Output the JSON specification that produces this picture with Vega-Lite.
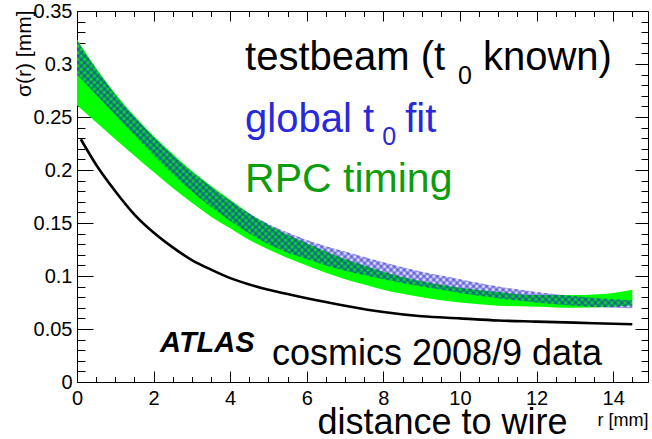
{
  "$schema": "https://vega.github.io/schema/vega-lite/v6.json",
  "autosize": {"type": "none"},
  "padding": {"left": 77, "top": 11, "right": 4, "bottom": 57},
  "width": 571,
  "height": 371,
  "background": "white",
  "config": {
    "view": {"stroke": "black", "strokeWidth": 1},
    "font": "Liberation Sans",
    "text": {"font": "Liberation Sans"},
    "axis": {
      "domain": false,
      "grid": false,
      "tickColor": "black",
      "tickWidth": 1,
      "labelFont": "Liberation Sans",
      "labelFontSize": 20,
      "labelColor": "black",
      "labelOverlap": false,
      "labelFlush": false,
      "labelBound": false,
      "titleFont": "Liberation Sans",
      "titleFontWeight": "normal",
      "titleColor": "black"
    }
  },
  "datasets": {
    "bands": [
      {"r": 0, "rpc_lo": 0.261, "rpc_hi": 0.323, "g_lo": 0.290, "g_hi": 0.322},
      {"r": 0.5, "rpc_lo": 0.245, "rpc_hi": 0.296, "g_lo": 0.271, "g_hi": 0.295},
      {"r": 1, "rpc_lo": 0.229, "rpc_hi": 0.272, "g_lo": 0.252, "g_hi": 0.271},
      {"r": 1.5, "rpc_lo": 0.2135, "rpc_hi": 0.251, "g_lo": 0.233, "g_hi": 0.250},
      {"r": 2, "rpc_lo": 0.198, "rpc_hi": 0.232, "g_lo": 0.214, "g_hi": 0.231},
      {"r": 2.5, "rpc_lo": 0.183, "rpc_hi": 0.215, "g_lo": 0.196, "g_hi": 0.214},
      {"r": 3, "rpc_lo": 0.169, "rpc_hi": 0.199, "g_lo": 0.180, "g_hi": 0.198},
      {"r": 3.5, "rpc_lo": 0.156, "rpc_hi": 0.185, "g_lo": 0.165, "g_hi": 0.184},
      {"r": 4, "rpc_lo": 0.145, "rpc_hi": 0.172, "g_lo": 0.152, "g_hi": 0.171},
      {"r": 4.5, "rpc_lo": 0.134, "rpc_hi": 0.159, "g_lo": 0.140, "g_hi": 0.159},
      {"r": 5, "rpc_lo": 0.125, "rpc_hi": 0.148, "g_lo": 0.130, "g_hi": 0.149},
      {"r": 5.5, "rpc_lo": 0.117, "rpc_hi": 0.139, "g_lo": 0.122, "g_hi": 0.141},
      {"r": 6, "rpc_lo": 0.110, "rpc_hi": 0.131, "g_lo": 0.116, "g_hi": 0.134},
      {"r": 6.5, "rpc_lo": 0.103, "rpc_hi": 0.123, "g_lo": 0.110, "g_hi": 0.128},
      {"r": 7, "rpc_lo": 0.097, "rpc_hi": 0.116, "g_lo": 0.105, "g_hi": 0.123},
      {"r": 7.5, "rpc_lo": 0.092, "rpc_hi": 0.110, "g_lo": 0.101, "g_hi": 0.118},
      {"r": 8, "rpc_lo": 0.087, "rpc_hi": 0.104, "g_lo": 0.097, "g_hi": 0.113},
      {"r": 9, "rpc_lo": 0.080, "rpc_hi": 0.095, "g_lo": 0.090, "g_hi": 0.104},
      {"r": 10, "rpc_lo": 0.075, "rpc_hi": 0.089, "g_lo": 0.084, "g_hi": 0.097},
      {"r": 11, "rpc_lo": 0.072, "rpc_hi": 0.085, "g_lo": 0.079, "g_hi": 0.090},
      {"r": 12, "rpc_lo": 0.071, "rpc_hi": 0.082, "g_lo": 0.075, "g_hi": 0.085},
      {"r": 13, "rpc_lo": 0.070, "rpc_hi": 0.082, "g_lo": 0.072, "g_hi": 0.081},
      {"r": 14, "rpc_lo": 0.071, "rpc_hi": 0.084, "g_lo": 0.070, "g_hi": 0.078},
      {"r": 14.5, "rpc_lo": 0.0725, "rpc_hi": 0.087, "g_lo": 0.0695, "g_hi": 0.077}
    ],
    "testbeam": [
      {"r": 0.1, "sigma": 0.229},
      {"r": 0.5, "sigma": 0.205},
      {"r": 1, "sigma": 0.180},
      {"r": 1.5, "sigma": 0.158},
      {"r": 2, "sigma": 0.141},
      {"r": 2.5, "sigma": 0.127},
      {"r": 3, "sigma": 0.115},
      {"r": 3.5, "sigma": 0.106},
      {"r": 4, "sigma": 0.098},
      {"r": 4.5, "sigma": 0.092},
      {"r": 5, "sigma": 0.087},
      {"r": 5.5, "sigma": 0.083},
      {"r": 6, "sigma": 0.079},
      {"r": 7, "sigma": 0.072},
      {"r": 8, "sigma": 0.066},
      {"r": 9, "sigma": 0.062},
      {"r": 10, "sigma": 0.060},
      {"r": 11, "sigma": 0.058},
      {"r": 12, "sigma": 0.057},
      {"r": 13, "sigma": 0.056},
      {"r": 14, "sigma": 0.055},
      {"r": 14.5, "sigma": 0.0545}
    ]
  },
  "resolve": {
    "scale": {"x": "shared", "y": "shared"},
    "axis": {"x": "independent", "y": "independent"}
  },
  "layer": [
    {
      "data": {"name": "bands"},
      "mark": {"type": "area", "interpolate": "monotone", "color": "#00ff00", "opacity": 1},
      "encoding": {
        "x": {
          "field": "r", "type": "quantitative",
          "scale": {"domain": [0, 14.91], "nice": false, "zero": false},
          "axis": {
            "orient": "bottom",
            "values": [0, 0.5, 1, 1.5, 2, 2.5, 3, 3.5, 4, 4.5, 5, 5.5, 6, 6.5, 7, 7.5, 8, 8.5, 9, 9.5, 10, 10.5, 11, 11.5, 12, 12.5, 13, 13.5, 14, 14.5],
            "labelExpr": "datum.value % 2 === 0 ? format(datum.value, 'd') : ''",
            "tickSize": {"condition": {"test": "datum.value % 2 === 0", "value": -11}, "value": -5.5},
            "labelPadding": 17,
            "title": "r [mm]",
            "titleFontSize": 18,
            "titleAnchor": "end",
            "titleAlign": "right",
            "titleBaseline": "alphabetic",
            "titleX": 571,
            "titleY": 43
          }
        },
        "y": {
          "field": "rpc_lo", "type": "quantitative",
          "scale": {"domain": [0, 0.35], "nice": false, "zero": false},
          "axis": {
            "orient": "left",
            "values": [0, 0.01, 0.02, 0.03, 0.04, 0.05, 0.06, 0.07, 0.08, 0.09, 0.1, 0.11, 0.12, 0.13, 0.14, 0.15, 0.16, 0.17, 0.18, 0.19, 0.2, 0.21, 0.22, 0.23, 0.24, 0.25, 0.26, 0.27, 0.28, 0.29, 0.3, 0.31, 0.32, 0.33, 0.34, 0.35],
            "labelExpr": "round(datum.value * 100) % 5 === 0 ? format(datum.value, '~g') : ''",
            "tickSize": {"condition": {"test": "round(datum.value * 100) % 5 === 0", "value": -16}, "value": -8},
            "labelPadding": 21,
            "title": "σ(r) [mm]",
            "titleFontSize": 21,
            "titleAngle": -90,
            "titleAnchor": "end",
            "titleAlign": "right",
            "titleBaseline": "alphabetic",
            "titleX": -47,
            "titleY": -1
          }
        },
        "y2": {"field": "rpc_hi"}
      }
    },
    {
      "data": {"name": "bands"},
      "mark": {
        "type": "area", "interpolate": "monotone",
        "fill": {
          "gradient": "linear", "x1": 0, "y1": 0, "x2": 1.203, "y2": 0.581,
          "stops": [
            {"offset": 0, "color": "#22c0"}, {"offset": 0.004, "color": "#22c8"}, {"offset": 0.008, "color": "#22c0"}, {"offset": 0.012, "color": "#22c8"}, {"offset": 0.016, "color": "#22c0"}, {"offset": 0.02, "color": "#22c8"}, {"offset": 0.024, "color": "#22c0"}, {"offset": 0.028, "color": "#22c8"}, {"offset": 0.032, "color": "#22c0"}, {"offset": 0.036, "color": "#22c8"}, {"offset": 0.04, "color": "#22c0"}, {"offset": 0.044, "color": "#22c8"}, {"offset": 0.048, "color": "#22c0"}, {"offset": 0.052, "color": "#22c8"}, {"offset": 0.056, "color": "#22c0"}, {"offset": 0.06, "color": "#22c8"}, {"offset": 0.064, "color": "#22c0"}, {"offset": 0.068, "color": "#22c8"}, {"offset": 0.072, "color": "#22c0"}, {"offset": 0.076, "color": "#22c8"}, {"offset": 0.08, "color": "#22c0"}, {"offset": 0.084, "color": "#22c8"}, {"offset": 0.088, "color": "#22c0"}, {"offset": 0.092, "color": "#22c8"}, {"offset": 0.096, "color": "#22c0"},
            {"offset": 0.1, "color": "#22c8"}, {"offset": 0.104, "color": "#22c0"}, {"offset": 0.108, "color": "#22c8"}, {"offset": 0.112, "color": "#22c0"}, {"offset": 0.116, "color": "#22c8"}, {"offset": 0.12, "color": "#22c0"}, {"offset": 0.124, "color": "#22c8"}, {"offset": 0.128, "color": "#22c0"}, {"offset": 0.132, "color": "#22c8"}, {"offset": 0.136, "color": "#22c0"}, {"offset": 0.14, "color": "#22c8"}, {"offset": 0.144, "color": "#22c0"}, {"offset": 0.148, "color": "#22c8"}, {"offset": 0.152, "color": "#22c0"}, {"offset": 0.156, "color": "#22c8"}, {"offset": 0.16, "color": "#22c0"}, {"offset": 0.164, "color": "#22c8"}, {"offset": 0.168, "color": "#22c0"}, {"offset": 0.172, "color": "#22c8"}, {"offset": 0.176, "color": "#22c0"}, {"offset": 0.18, "color": "#22c8"}, {"offset": 0.184, "color": "#22c0"}, {"offset": 0.188, "color": "#22c8"}, {"offset": 0.192, "color": "#22c0"}, {"offset": 0.196, "color": "#22c8"},
            {"offset": 0.2, "color": "#22c0"}, {"offset": 0.204, "color": "#22c8"}, {"offset": 0.208, "color": "#22c0"}, {"offset": 0.212, "color": "#22c8"}, {"offset": 0.216, "color": "#22c0"}, {"offset": 0.22, "color": "#22c8"}, {"offset": 0.224, "color": "#22c0"}, {"offset": 0.228, "color": "#22c8"}, {"offset": 0.232, "color": "#22c0"}, {"offset": 0.236, "color": "#22c8"}, {"offset": 0.24, "color": "#22c0"}, {"offset": 0.244, "color": "#22c8"}, {"offset": 0.248, "color": "#22c0"}, {"offset": 0.252, "color": "#22c8"}, {"offset": 0.256, "color": "#22c0"}, {"offset": 0.26, "color": "#22c8"}, {"offset": 0.264, "color": "#22c0"}, {"offset": 0.268, "color": "#22c8"}, {"offset": 0.272, "color": "#22c0"}, {"offset": 0.276, "color": "#22c8"}, {"offset": 0.28, "color": "#22c0"}, {"offset": 0.284, "color": "#22c8"}, {"offset": 0.288, "color": "#22c0"}, {"offset": 0.292, "color": "#22c8"}, {"offset": 0.296, "color": "#22c0"},
            {"offset": 0.3, "color": "#22c8"}, {"offset": 0.304, "color": "#22c0"}, {"offset": 0.308, "color": "#22c8"}, {"offset": 0.312, "color": "#22c0"}, {"offset": 0.316, "color": "#22c8"}, {"offset": 0.32, "color": "#22c0"}, {"offset": 0.324, "color": "#22c8"}, {"offset": 0.328, "color": "#22c0"}, {"offset": 0.332, "color": "#22c8"}, {"offset": 0.336, "color": "#22c0"}, {"offset": 0.34, "color": "#22c8"}, {"offset": 0.344, "color": "#22c0"}, {"offset": 0.348, "color": "#22c8"}, {"offset": 0.352, "color": "#22c0"}, {"offset": 0.356, "color": "#22c8"}, {"offset": 0.36, "color": "#22c0"}, {"offset": 0.364, "color": "#22c8"}, {"offset": 0.368, "color": "#22c0"}, {"offset": 0.372, "color": "#22c8"}, {"offset": 0.376, "color": "#22c0"}, {"offset": 0.38, "color": "#22c8"}, {"offset": 0.384, "color": "#22c0"}, {"offset": 0.388, "color": "#22c8"}, {"offset": 0.392, "color": "#22c0"}, {"offset": 0.396, "color": "#22c8"},
            {"offset": 0.4, "color": "#22c0"}, {"offset": 0.404, "color": "#22c8"}, {"offset": 0.408, "color": "#22c0"}, {"offset": 0.412, "color": "#22c8"}, {"offset": 0.416, "color": "#22c0"}, {"offset": 0.42, "color": "#22c8"}, {"offset": 0.424, "color": "#22c0"}, {"offset": 0.428, "color": "#22c8"}, {"offset": 0.432, "color": "#22c0"}, {"offset": 0.436, "color": "#22c8"}, {"offset": 0.44, "color": "#22c0"}, {"offset": 0.444, "color": "#22c8"}, {"offset": 0.448, "color": "#22c0"}, {"offset": 0.452, "color": "#22c8"}, {"offset": 0.456, "color": "#22c0"}, {"offset": 0.46, "color": "#22c8"}, {"offset": 0.464, "color": "#22c0"}, {"offset": 0.468, "color": "#22c8"}, {"offset": 0.472, "color": "#22c0"}, {"offset": 0.476, "color": "#22c8"}, {"offset": 0.48, "color": "#22c0"}, {"offset": 0.484, "color": "#22c8"}, {"offset": 0.488, "color": "#22c0"}, {"offset": 0.492, "color": "#22c8"}, {"offset": 0.496, "color": "#22c0"},
            {"offset": 0.5, "color": "#22c8"}, {"offset": 0.504, "color": "#22c0"}, {"offset": 0.508, "color": "#22c8"}, {"offset": 0.512, "color": "#22c0"}, {"offset": 0.516, "color": "#22c8"}, {"offset": 0.52, "color": "#22c0"}, {"offset": 0.524, "color": "#22c8"}, {"offset": 0.528, "color": "#22c0"}, {"offset": 0.532, "color": "#22c8"}, {"offset": 0.536, "color": "#22c0"}, {"offset": 0.54, "color": "#22c8"}, {"offset": 0.544, "color": "#22c0"}, {"offset": 0.548, "color": "#22c8"}, {"offset": 0.552, "color": "#22c0"}, {"offset": 0.556, "color": "#22c8"}, {"offset": 0.56, "color": "#22c0"}, {"offset": 0.564, "color": "#22c8"}, {"offset": 0.568, "color": "#22c0"}, {"offset": 0.572, "color": "#22c8"}, {"offset": 0.576, "color": "#22c0"}, {"offset": 0.58, "color": "#22c8"}, {"offset": 0.584, "color": "#22c0"}, {"offset": 0.588, "color": "#22c8"}, {"offset": 0.592, "color": "#22c0"}, {"offset": 0.596, "color": "#22c8"},
            {"offset": 0.6, "color": "#22c0"}, {"offset": 0.604, "color": "#22c8"}, {"offset": 0.608, "color": "#22c0"}, {"offset": 0.612, "color": "#22c8"}, {"offset": 0.616, "color": "#22c0"}, {"offset": 0.62, "color": "#22c8"}, {"offset": 0.624, "color": "#22c0"}, {"offset": 0.628, "color": "#22c8"}, {"offset": 0.632, "color": "#22c0"}, {"offset": 0.636, "color": "#22c8"}, {"offset": 0.64, "color": "#22c0"}, {"offset": 0.644, "color": "#22c8"}, {"offset": 0.648, "color": "#22c0"}, {"offset": 0.652, "color": "#22c8"}, {"offset": 0.656, "color": "#22c0"}, {"offset": 0.66, "color": "#22c8"}, {"offset": 0.664, "color": "#22c0"}, {"offset": 0.668, "color": "#22c8"}, {"offset": 0.672, "color": "#22c0"}, {"offset": 0.676, "color": "#22c8"}, {"offset": 0.68, "color": "#22c0"}, {"offset": 0.684, "color": "#22c8"}, {"offset": 0.688, "color": "#22c0"}, {"offset": 0.692, "color": "#22c8"}, {"offset": 0.696, "color": "#22c0"},
            {"offset": 0.7, "color": "#22c8"}, {"offset": 0.704, "color": "#22c0"}, {"offset": 0.708, "color": "#22c8"}, {"offset": 0.712, "color": "#22c0"}, {"offset": 0.716, "color": "#22c8"}, {"offset": 0.72, "color": "#22c0"}, {"offset": 0.724, "color": "#22c8"}, {"offset": 0.728, "color": "#22c0"}, {"offset": 0.732, "color": "#22c8"}, {"offset": 0.736, "color": "#22c0"}, {"offset": 0.74, "color": "#22c8"}, {"offset": 0.744, "color": "#22c0"}, {"offset": 0.748, "color": "#22c8"}, {"offset": 0.752, "color": "#22c0"}, {"offset": 0.756, "color": "#22c8"}, {"offset": 0.76, "color": "#22c0"}, {"offset": 0.764, "color": "#22c8"}, {"offset": 0.768, "color": "#22c0"}, {"offset": 0.772, "color": "#22c8"}, {"offset": 0.776, "color": "#22c0"}, {"offset": 0.78, "color": "#22c8"}, {"offset": 0.784, "color": "#22c0"}, {"offset": 0.788, "color": "#22c8"}, {"offset": 0.792, "color": "#22c0"}, {"offset": 0.796, "color": "#22c8"},
            {"offset": 0.8, "color": "#22c0"}, {"offset": 0.804, "color": "#22c8"}, {"offset": 0.808, "color": "#22c0"}, {"offset": 0.812, "color": "#22c8"}, {"offset": 0.816, "color": "#22c0"}, {"offset": 0.82, "color": "#22c8"}, {"offset": 0.824, "color": "#22c0"}, {"offset": 0.828, "color": "#22c8"}, {"offset": 0.832, "color": "#22c0"}, {"offset": 0.836, "color": "#22c8"}, {"offset": 0.84, "color": "#22c0"}, {"offset": 0.844, "color": "#22c8"}, {"offset": 0.848, "color": "#22c0"}, {"offset": 0.852, "color": "#22c8"}, {"offset": 0.856, "color": "#22c0"}, {"offset": 0.86, "color": "#22c8"}, {"offset": 0.864, "color": "#22c0"}, {"offset": 0.868, "color": "#22c8"}, {"offset": 0.872, "color": "#22c0"}, {"offset": 0.876, "color": "#22c8"}, {"offset": 0.88, "color": "#22c0"}, {"offset": 0.884, "color": "#22c8"}, {"offset": 0.888, "color": "#22c0"}, {"offset": 0.892, "color": "#22c8"}, {"offset": 0.896, "color": "#22c0"},
            {"offset": 0.9, "color": "#22c8"}, {"offset": 0.904, "color": "#22c0"}, {"offset": 0.908, "color": "#22c8"}, {"offset": 0.912, "color": "#22c0"}, {"offset": 0.916, "color": "#22c8"}, {"offset": 0.92, "color": "#22c0"}, {"offset": 0.924, "color": "#22c8"}, {"offset": 0.928, "color": "#22c0"}, {"offset": 0.932, "color": "#22c8"}, {"offset": 0.936, "color": "#22c0"}, {"offset": 0.94, "color": "#22c8"}, {"offset": 0.944, "color": "#22c0"}, {"offset": 0.948, "color": "#22c8"}, {"offset": 0.952, "color": "#22c0"}, {"offset": 0.956, "color": "#22c8"}, {"offset": 0.96, "color": "#22c0"}, {"offset": 0.964, "color": "#22c8"}, {"offset": 0.968, "color": "#22c0"}, {"offset": 0.972, "color": "#22c8"}, {"offset": 0.976, "color": "#22c0"}, {"offset": 0.98, "color": "#22c8"}, {"offset": 0.984, "color": "#22c0"}, {"offset": 0.988, "color": "#22c8"}, {"offset": 0.992, "color": "#22c0"}, {"offset": 0.996, "color": "#22c8"},
            {"offset": 1, "color": "#22c0"}
          ]
        }
      },
      "encoding": {
        "x": {"field": "r", "type": "quantitative", "axis": null},
        "y": {"field": "g_lo", "type": "quantitative", "axis": null},
        "y2": {"field": "g_hi"}
      }
    },
    {
      "data": {"name": "bands"},
      "mark": {
        "type": "area", "interpolate": "monotone",
        "fill": {
          "gradient": "linear", "x1": 0, "y1": 1, "x2": 1.203, "y2": 0.419,
          "stops": [
            {"offset": 0.2, "color": "#22c0"}, {"offset": 0.204, "color": "#22c8"}, {"offset": 0.208, "color": "#22c0"}, {"offset": 0.212, "color": "#22c8"}, {"offset": 0.216, "color": "#22c0"}, {"offset": 0.22, "color": "#22c8"}, {"offset": 0.224, "color": "#22c0"}, {"offset": 0.228, "color": "#22c8"}, {"offset": 0.232, "color": "#22c0"}, {"offset": 0.236, "color": "#22c8"}, {"offset": 0.24, "color": "#22c0"}, {"offset": 0.244, "color": "#22c8"}, {"offset": 0.248, "color": "#22c0"}, {"offset": 0.252, "color": "#22c8"}, {"offset": 0.256, "color": "#22c0"}, {"offset": 0.26, "color": "#22c8"}, {"offset": 0.264, "color": "#22c0"}, {"offset": 0.268, "color": "#22c8"}, {"offset": 0.272, "color": "#22c0"}, {"offset": 0.276, "color": "#22c8"}, {"offset": 0.28, "color": "#22c0"}, {"offset": 0.284, "color": "#22c8"}, {"offset": 0.288, "color": "#22c0"}, {"offset": 0.292, "color": "#22c8"}, {"offset": 0.296, "color": "#22c0"},
            {"offset": 0.3, "color": "#22c8"}, {"offset": 0.304, "color": "#22c0"}, {"offset": 0.308, "color": "#22c8"}, {"offset": 0.312, "color": "#22c0"}, {"offset": 0.316, "color": "#22c8"}, {"offset": 0.32, "color": "#22c0"}, {"offset": 0.324, "color": "#22c8"}, {"offset": 0.328, "color": "#22c0"}, {"offset": 0.332, "color": "#22c8"}, {"offset": 0.336, "color": "#22c0"}, {"offset": 0.34, "color": "#22c8"}, {"offset": 0.344, "color": "#22c0"}, {"offset": 0.348, "color": "#22c8"}, {"offset": 0.352, "color": "#22c0"}, {"offset": 0.356, "color": "#22c8"}, {"offset": 0.36, "color": "#22c0"}, {"offset": 0.364, "color": "#22c8"}, {"offset": 0.368, "color": "#22c0"}, {"offset": 0.372, "color": "#22c8"}, {"offset": 0.376, "color": "#22c0"}, {"offset": 0.38, "color": "#22c8"}, {"offset": 0.384, "color": "#22c0"}, {"offset": 0.388, "color": "#22c8"}, {"offset": 0.392, "color": "#22c0"}, {"offset": 0.396, "color": "#22c8"},
            {"offset": 0.4, "color": "#22c0"}, {"offset": 0.404, "color": "#22c8"}, {"offset": 0.408, "color": "#22c0"}, {"offset": 0.412, "color": "#22c8"}, {"offset": 0.416, "color": "#22c0"}, {"offset": 0.42, "color": "#22c8"}, {"offset": 0.424, "color": "#22c0"}, {"offset": 0.428, "color": "#22c8"}, {"offset": 0.432, "color": "#22c0"}, {"offset": 0.436, "color": "#22c8"}, {"offset": 0.44, "color": "#22c0"}, {"offset": 0.444, "color": "#22c8"}, {"offset": 0.448, "color": "#22c0"}, {"offset": 0.452, "color": "#22c8"}, {"offset": 0.456, "color": "#22c0"}, {"offset": 0.46, "color": "#22c8"}, {"offset": 0.464, "color": "#22c0"}, {"offset": 0.468, "color": "#22c8"}, {"offset": 0.472, "color": "#22c0"}, {"offset": 0.476, "color": "#22c8"}, {"offset": 0.48, "color": "#22c0"}, {"offset": 0.484, "color": "#22c8"}, {"offset": 0.488, "color": "#22c0"}, {"offset": 0.492, "color": "#22c8"}, {"offset": 0.496, "color": "#22c0"},
            {"offset": 0.5, "color": "#22c8"}, {"offset": 0.504, "color": "#22c0"}, {"offset": 0.508, "color": "#22c8"}, {"offset": 0.512, "color": "#22c0"}, {"offset": 0.516, "color": "#22c8"}, {"offset": 0.52, "color": "#22c0"}, {"offset": 0.524, "color": "#22c8"}, {"offset": 0.528, "color": "#22c0"}, {"offset": 0.532, "color": "#22c8"}, {"offset": 0.536, "color": "#22c0"}, {"offset": 0.54, "color": "#22c8"}, {"offset": 0.544, "color": "#22c0"}, {"offset": 0.548, "color": "#22c8"}, {"offset": 0.552, "color": "#22c0"}, {"offset": 0.556, "color": "#22c8"}, {"offset": 0.56, "color": "#22c0"}, {"offset": 0.564, "color": "#22c8"}, {"offset": 0.568, "color": "#22c0"}, {"offset": 0.572, "color": "#22c8"}, {"offset": 0.576, "color": "#22c0"}, {"offset": 0.58, "color": "#22c8"}, {"offset": 0.584, "color": "#22c0"}, {"offset": 0.588, "color": "#22c8"}, {"offset": 0.592, "color": "#22c0"}, {"offset": 0.596, "color": "#22c8"},
            {"offset": 0.6, "color": "#22c0"}, {"offset": 0.604, "color": "#22c8"}, {"offset": 0.608, "color": "#22c0"}, {"offset": 0.612, "color": "#22c8"}, {"offset": 0.616, "color": "#22c0"}, {"offset": 0.62, "color": "#22c8"}, {"offset": 0.624, "color": "#22c0"}, {"offset": 0.628, "color": "#22c8"}, {"offset": 0.632, "color": "#22c0"}, {"offset": 0.636, "color": "#22c8"}, {"offset": 0.64, "color": "#22c0"}, {"offset": 0.644, "color": "#22c8"}, {"offset": 0.648, "color": "#22c0"}, {"offset": 0.652, "color": "#22c8"}, {"offset": 0.656, "color": "#22c0"}, {"offset": 0.66, "color": "#22c8"}, {"offset": 0.664, "color": "#22c0"}, {"offset": 0.668, "color": "#22c8"}, {"offset": 0.672, "color": "#22c0"}, {"offset": 0.676, "color": "#22c8"}, {"offset": 0.68, "color": "#22c0"}, {"offset": 0.684, "color": "#22c8"}, {"offset": 0.688, "color": "#22c0"}, {"offset": 0.692, "color": "#22c8"}, {"offset": 0.696, "color": "#22c0"},
            {"offset": 0.7, "color": "#22c8"}, {"offset": 0.704, "color": "#22c0"}, {"offset": 0.708, "color": "#22c8"}, {"offset": 0.712, "color": "#22c0"}, {"offset": 0.716, "color": "#22c8"}, {"offset": 0.72, "color": "#22c0"}, {"offset": 0.724, "color": "#22c8"}, {"offset": 0.728, "color": "#22c0"}, {"offset": 0.732, "color": "#22c8"}, {"offset": 0.736, "color": "#22c0"}, {"offset": 0.74, "color": "#22c8"}, {"offset": 0.744, "color": "#22c0"}, {"offset": 0.748, "color": "#22c8"}, {"offset": 0.752, "color": "#22c0"}
          ]
        }
      },
      "encoding": {
        "x": {"field": "r", "type": "quantitative", "axis": null},
        "y": {"field": "g_lo", "type": "quantitative", "axis": null},
        "y2": {"field": "g_hi"}
      }
    },
    {
      "data": {"name": "testbeam"},
      "mark": {"type": "line", "interpolate": "monotone", "color": "black", "strokeWidth": 2.6},
      "encoding": {
        "x": {
          "field": "r", "type": "quantitative",
          "axis": {
            "orient": "top",
            "values": [0, 0.5, 1, 1.5, 2, 2.5, 3, 3.5, 4, 4.5, 5, 5.5, 6, 6.5, 7, 7.5, 8, 8.5, 9, 9.5, 10, 10.5, 11, 11.5, 12, 12.5, 13, 13.5, 14, 14.5],
            "labels": false,
            "tickSize": {"condition": {"test": "datum.value % 2 === 0", "value": -10}, "value": -5.5},
            "title": "distance to wire",
            "titleFontSize": 36,
            "titleAnchor": "start",
            "titleAlign": "left",
            "titleBaseline": "alphabetic",
            "titleX": 240,
            "titleY": 422
          }
        },
        "y": {
          "field": "sigma", "type": "quantitative",
          "axis": {
            "orient": "right",
            "values": [0, 0.01, 0.02, 0.03, 0.04, 0.05, 0.06, 0.07, 0.08, 0.09, 0.1, 0.11, 0.12, 0.13, 0.14, 0.15, 0.16, 0.17, 0.18, 0.19, 0.2, 0.21, 0.22, 0.23, 0.24, 0.25, 0.26, 0.27, 0.28, 0.29, 0.3, 0.31, 0.32, 0.33, 0.34, 0.35],
            "labels": false,
            "tickSize": {"condition": {"test": "round(datum.value * 100) % 5 === 0", "value": -13}, "value": -7},
            "title": null
          }
        }
      }
    },
    {
      "data": {"values": [{}]},
      "mark": {"type": "text", "font": "Liberation Sans", "align": "left", "baseline": "alphabetic", "fontSize": 40, "color": "black"},
      "encoding": {
        "x": {"datum": 4.39, "type": "quantitative", "axis": null},
        "y": {"datum": 0.2943, "type": "quantitative", "axis": null},
        "text": {"value": "testbeam (t"}
      }
    },
    {
      "data": {"values": [{}]},
      "mark": {"type": "text", "font": "Liberation Sans", "align": "left", "baseline": "alphabetic", "fontSize": 25, "color": "black"},
      "encoding": {
        "x": {"datum": 9.95, "type": "quantitative", "axis": null},
        "y": {"datum": 0.2811, "type": "quantitative", "axis": null},
        "text": {"value": "0"}
      }
    },
    {
      "data": {"values": [{}]},
      "mark": {"type": "text", "font": "Liberation Sans", "align": "left", "baseline": "alphabetic", "fontSize": 40, "color": "black"},
      "encoding": {
        "x": {"datum": 10.6, "type": "quantitative", "axis": null},
        "y": {"datum": 0.2943, "type": "quantitative", "axis": null},
        "text": {"value": "known)"}
      }
    },
    {
      "data": {"values": [{}]},
      "mark": {"type": "text", "font": "Liberation Sans", "align": "left", "baseline": "alphabetic", "fontSize": 40, "color": "#2828dd"},
      "encoding": {
        "x": {"datum": 4.39, "type": "quantitative", "axis": null},
        "y": {"datum": 0.2358, "type": "quantitative", "axis": null},
        "text": {"value": "global t"}
      }
    },
    {
      "data": {"values": [{}]},
      "mark": {"type": "text", "font": "Liberation Sans", "align": "left", "baseline": "alphabetic", "fontSize": 25, "color": "#2828dd"},
      "encoding": {
        "x": {"datum": 7.97, "type": "quantitative", "axis": null},
        "y": {"datum": 0.2236, "type": "quantitative", "axis": null},
        "text": {"value": "0"}
      }
    },
    {
      "data": {"values": [{}]},
      "mark": {"type": "text", "font": "Liberation Sans", "align": "left", "baseline": "alphabetic", "fontSize": 40, "color": "#2828dd"},
      "encoding": {
        "x": {"datum": 8.57, "type": "quantitative", "axis": null},
        "y": {"datum": 0.2358, "type": "quantitative", "axis": null},
        "text": {"value": "fit"}
      }
    },
    {
      "data": {"values": [{}]},
      "mark": {"type": "text", "font": "Liberation Sans", "align": "left", "baseline": "alphabetic", "fontSize": 41, "color": "#0c9c0c"},
      "encoding": {
        "x": {"datum": 4.39, "type": "quantitative", "axis": null},
        "y": {"datum": 0.1792, "type": "quantitative", "axis": null},
        "text": {"value": "RPC timing"}
      }
    },
    {
      "data": {"values": [{}]},
      "mark": {"type": "text", "font": "Liberation Sans", "align": "left", "baseline": "alphabetic", "fontSize": 29, "fontWeight": "bold", "fontStyle": "italic", "color": "black"},
      "encoding": {
        "x": {"datum": 2.17, "type": "quantitative", "axis": null},
        "y": {"datum": 0.0283, "type": "quantitative", "axis": null},
        "text": {"value": "ATLAS"}
      }
    },
    {
      "data": {"values": [{}]},
      "mark": {"type": "text", "font": "Liberation Sans", "align": "left", "baseline": "alphabetic", "fontSize": 36, "color": "black"},
      "encoding": {
        "x": {"datum": 5.09, "type": "quantitative", "axis": null},
        "y": {"datum": 0.0160, "type": "quantitative", "axis": null},
        "text": {"value": "cosmics 2008/9 data"}
      }
    }
  ]
}
